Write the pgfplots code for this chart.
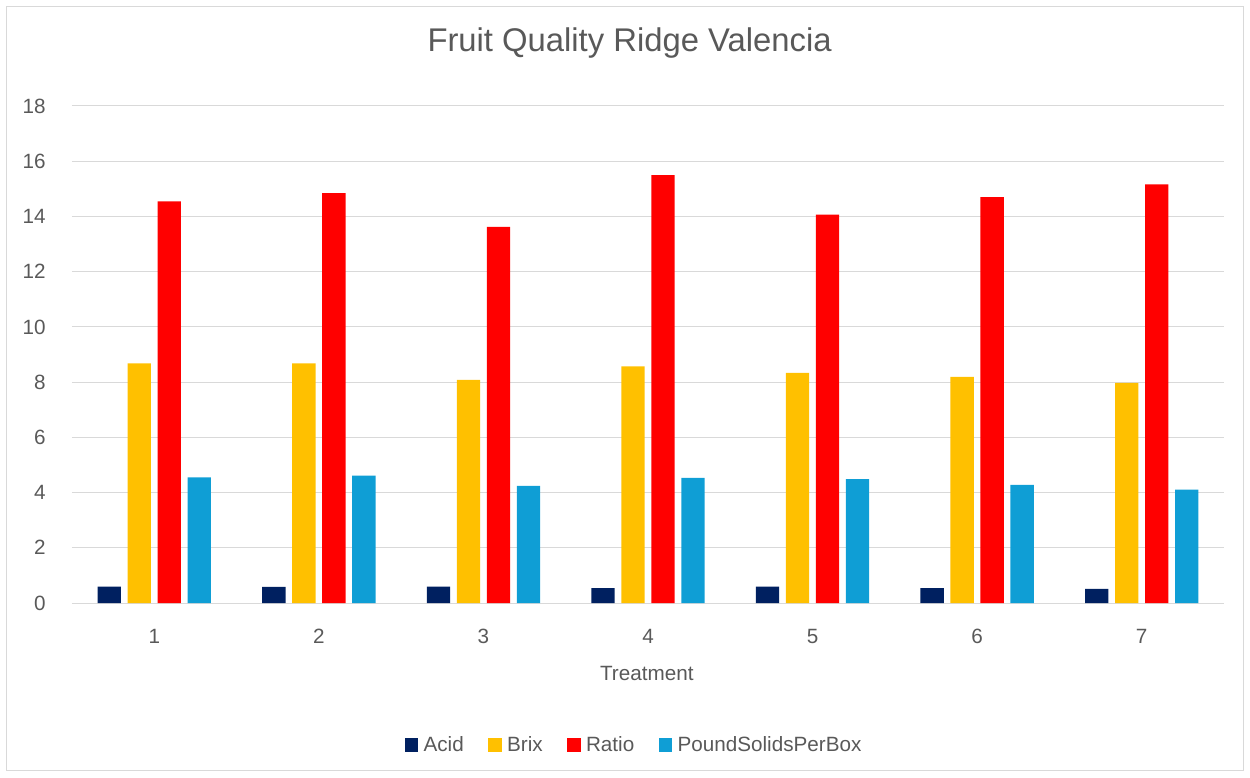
\documentclass[border=0pt]{standalone}
\usepackage{pgfplots}
\pgfplotsset{compat=1.18}
\usepackage{fontspec}
\setmainfont{Liberation Sans}
\definecolor{acid}{HTML}{002060}
\definecolor{brix}{HTML}{FFC000}
\definecolor{ratio}{HTML}{FF0000}
\definecolor{psb}{HTML}{0F9ED5}
\definecolor{txt}{HTML}{595959}
\definecolor{gridc}{HTML}{D9D9D9}
\begin{document}
\begin{tikzpicture}
\begin{axis}[
  name=ax,
  scale only axis,
  width=864pt, height=372.75pt,
  xmin=0.5, xmax=7.5, ymin=0, ymax=18,
  ybar=5pt, bar width=17.5pt,
  xtick={1,...,7}, ytick={0,2,...,18},
  axis x line*=bottom, axis y line*=left,
  x axis line style={draw=gridc, line width=0.75pt},
  y axis line style={draw=none},
  major tick length=0pt,
  ymajorgrids, grid style={draw=gridc, line width=0.75pt},
  tick label style={font=\fontsize{15.5}{18}\selectfont, text=txt},
  /pgf/number format/assume math mode=true,
  xticklabel style={anchor=base, inner sep=0pt, yshift=-30pt},
  yticklabel style={anchor=east, inner sep=0pt, xshift=-19.5pt},
  xlabel={Treatment},
  xlabel style={at={(axis description cs:0.499,0)}, anchor=base, inner sep=0pt, yshift=-57.75pt, font=\fontsize{15.5}{18}\selectfont, text=txt},
  title={Fruit Quality Ridge Valencia},
  title style={at={(axis description cs:0.484,1)}, anchor=base, inner sep=0pt, yshift=34.5pt, font=\fontsize{24.6}{28}\selectfont, text=txt},
  legend columns=4,
  legend style={at={(axis description cs:0.4883,0)}, anchor=center, yshift=-106.5pt, draw=none, fill=none,
    font=\fontsize{15.5}{18}\selectfont, text=txt,
    /tikz/every odd column/.append style={column sep=2pt},
    /tikz/every even column/.append style={column sep=16.5pt}},
  legend image code/.code={\fill[#1] (0pt,-5pt) rectangle (10pt,5pt);},
]
\addplot[fill=acid, draw=none] coordinates {(1,0.59) (2,0.58) (3,0.59) (4,0.54) (5,0.59) (6,0.54) (7,0.51)};
\addplot[fill=brix, draw=none] coordinates {(1,8.68) (2,8.68) (3,8.08) (4,8.57) (5,8.33) (6,8.19) (7,7.97)};
\addplot[fill=ratio, draw=none] coordinates {(1,14.55) (2,14.84) (3,13.62) (4,15.50) (5,14.07) (6,14.70) (7,15.16)};
\addplot[fill=psb, draw=none] coordinates {(1,4.55) (2,4.61) (3,4.24) (4,4.53) (5,4.49) (6,4.28) (7,4.11)};
\legend{Acid, Brix, Ratio, PoundSolidsPerBox}
\end{axis}
\path ([shift={(-54pt,-131.25pt)}]ax.south west) rectangle ([shift={(883.5pt,452.25pt)}]ax.south west);
\draw[gridc, line width=0.75pt] ([shift={(-48.75pt,-126pt)}]ax.south west) rectangle ([shift={(878.25pt,447pt)}]ax.south west);
\end{tikzpicture}
\end{document}
